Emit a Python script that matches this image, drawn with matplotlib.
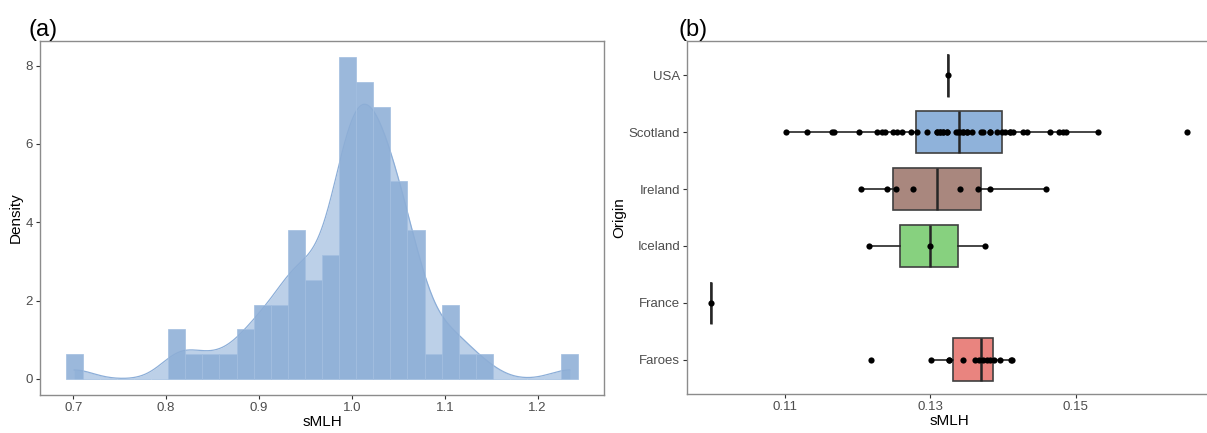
import numpy as np
import matplotlib
matplotlib.use("Agg")
import matplotlib.pyplot as plt

# panel (a): histogram of standardised sMLH, 30 bins, counts per bin
bin_lo = 0.6918
bin_hi = 1.2438
bin_counts = [1, 0, 0, 0, 0, 0, 2, 1, 1, 1, 2, 3, 3, 6, 4,
              5, 13, 12, 11, 8, 6, 1, 3, 1, 1, 0, 0, 0, 0, 1]

# panel (b): sMLH per individual, by origin
origins = ["Faroes", "France", "Iceland", "Ireland", "Scotland", "USA"]
faroes = [0.12182, 0.13007, 0.13258, 0.13258, 0.13451, 0.13612, 0.13671,
          0.13718, 0.13773, 0.13818, 0.13873, 0.13955, 0.14102, 0.14125]
france = [0.0998]
iceland = [0.12156, 0.13000, 0.13752]
ireland = [0.12047, 0.12398, 0.12522, 0.12764, 0.13408, 0.13650, 0.13822, 0.14585]
scotland = [0.11014, 0.11298, 0.11642, 0.11678, 0.12017, 0.12260, 0.12337, 0.12375,
            0.12489, 0.12544, 0.12604, 0.12728, 0.12819, 0.12956, 0.13085, 0.13085,
            0.13131, 0.13131, 0.13176, 0.13176, 0.13231, 0.13231, 0.13351, 0.13378,
            0.13405, 0.13451, 0.13451, 0.13506, 0.13506, 0.13566, 0.13694, 0.13726,
            0.13818, 0.13818, 0.13910, 0.13979, 0.14024, 0.14093, 0.14093, 0.14134,
            0.14271, 0.14331, 0.14643, 0.14770, 0.14817, 0.14863, 0.15307, 0.16530]
usa = [0.13242]
groups = [faroes, france, iceland, ireland, scotland, usa]
box_colors = ["#E9847F", "#FFFFFF", "#87D17F", "#A9877E", "#8FB2DA", "#FFFFFF"]

tick_font = ["Liberation Sans Narrow", "Liberation Sans", "DejaVu Sans"]
title_font = ["Liberation Sans", "DejaVu Sans"]
tick_col = "#4D4D4D"
spine_col = "#8C8C8C"

W, H = 1207, 433
fig = plt.figure(figsize=(W / 100, H / 100), dpi=100)


def style_axes(ax):
    for s in ax.spines.values():
        s.set_color(spine_col)
        s.set_linewidth(1.0)
    ax.tick_params(length=3, width=0.8, color="#333333", labelcolor=tick_col,
                   labelsize=9.5, pad=2)
    for lab in ax.get_xticklabels() + ax.get_yticklabels():
        lab.set_family(tick_font)


# ---- (a) histogram + density ----
ax1 = fig.add_axes([40 / W, (H - 395) / H, (604 - 40) / W, (395 - 41) / H])
edges = np.linspace(bin_lo, bin_hi, len(bin_counts) + 1)
width = edges[1] - edges[0]
counts = np.array(bin_counts)
n = counts.sum()
dens = counts / (n * width)

centers = edges[:-1] + width / 2
samples = np.repeat(centers, counts)
sd = samples.std(ddof=1)
iqr = np.subtract(*np.percentile(samples, [75, 25]))
bw = 0.9 * min(sd, iqr / 1.34) * n ** -0.2
xs = np.linspace(samples.min(), samples.max(), 512)
kde = np.exp(-0.5 * ((xs[:, None] - samples[None, :]) / bw) ** 2).sum(axis=1)
kde = kde / (n * bw * np.sqrt(2 * np.pi))

ax1.fill_between(xs, 0, kde, color="#BCD0E8", lw=0, zorder=1)
ax1.plot(xs, kde, color="#8CAED8", lw=0.9, zorder=2)
ax1.bar(edges[:-1], dens, width=width, align="edge", color="#8DAED6", alpha=0.88,
        edgecolor="#A3BFE0", linewidth=0.6, zorder=3)

ax1.set_xlim(0.6642, 1.2714)
ax1.set_ylim(-0.41, 8.63)
ax1.set_xticks([0.7, 0.8, 0.9, 1.0, 1.1, 1.2])
ax1.set_xticklabels(["0.7", "0.8", "0.9", "1.0", "1.1", "1.2"])
ax1.set_yticks([0, 2, 4, 6, 8])
style_axes(ax1)
ax1.set_xlabel("sMLH", fontsize=11, family=title_font, labelpad=1)
ax1.set_ylabel("Density", fontsize=11, family=title_font, labelpad=2)
fig.text(29 / W, 1 - 36 / H, "(a)", fontsize=17, family=title_font)

# ---- (b) boxplots by origin ----
ax2 = fig.add_axes([687 / W, (H - 394) / H, (1211 - 687) / W, (394 - 41) / H])
pos = np.arange(1, len(origins) + 1)
bp = ax2.boxplot(groups, positions=pos, orientation="horizontal", widths=0.75,
                 patch_artist=True, showfliers=False, showcaps=False, whis=1.5,
                 medianprops=dict(color="#262626", linewidth=1.8),
                 whiskerprops=dict(color="#262626", linewidth=1.2),
                 boxprops=dict(edgecolor="#404040", linewidth=1.2))
for patch, c in zip(bp["boxes"], box_colors):
    patch.set_facecolor(c)
for i, g in enumerate(groups):
    ax2.scatter(g, np.full(len(g), pos[i]), s=20, color="black", zorder=4,
                linewidths=0)

ax2.set_xlim(0.0965, 0.1686)
ax2.set_ylim(0.4, 6.6)
ax2.set_xticks([0.11, 0.13, 0.15])
ax2.set_xticklabels(["0.11", "0.13", "0.15"])
ax2.set_yticks(pos)
ax2.set_yticklabels(origins)
style_axes(ax2)
ax2.set_xlabel("sMLH", fontsize=11, family=title_font, labelpad=1)
ax2.set_ylabel("Origin", fontsize=11, family=title_font, labelpad=2)
fig.text(678 / W, 1 - 36 / H, "(b)", fontsize=17, family=title_font)

fig.savefig("out.png", dpi=100)
